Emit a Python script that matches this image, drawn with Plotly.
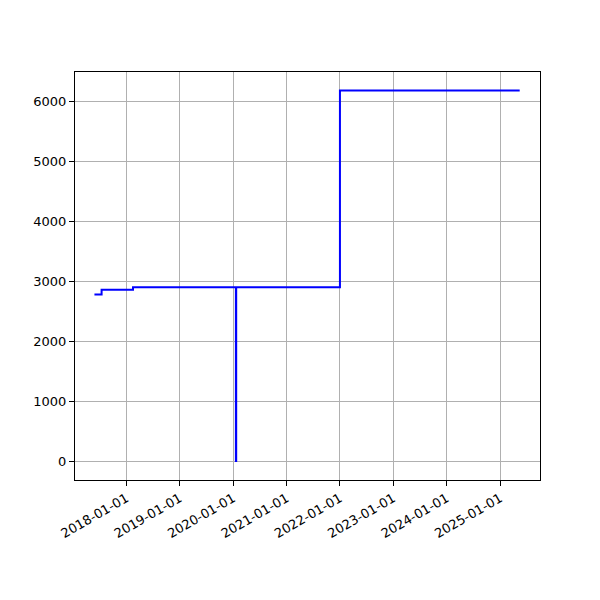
import plotly.graph_objects as go

dates = ["2017-05-27", "2017-07-15", "2018-02-15", "2020-01-20", "2020-01-22", "2022-01-01", "2025-05-15"]
values = [2780, 2860, 2900, 0, 2900, 6180, 6180]

tick_vals = ["2018-01-01", "2019-01-01", "2020-01-01", "2021-01-01", "2022-01-01", "2023-01-01", "2024-01-01", "2025-01-01"]
y_ticks = [0, 1000, 2000, 3000, 4000, 5000, 6000]

fig = go.Figure()
fig.add_trace(go.Scatter(x=dates, y=values, mode="lines", line=dict(color="blue", width=2, shape="hv")))

axis_common = dict(
    showline=True, linecolor="black", linewidth=1, mirror=True,
    ticks="outside", ticklen=5, tickcolor="black", tickwidth=1,
    showgrid=True, gridcolor="#b0b0b0", gridwidth=1, zeroline=False,
    tickfont=dict(family="DejaVu Sans", size=13, color="black"),
)

fig.update_layout(
    width=600, height=600,
    margin=dict(l=67, r=68, t=64, b=128),
    paper_bgcolor="white", plot_bgcolor="white",
    showlegend=False,
    xaxis=dict(range=["2017-01-14", "2025-10-01"], tickmode="array", tickvals=tick_vals,
               ticktext=tick_vals, tickangle=-30, **axis_common),
    yaxis=dict(range=[-315, 6490], tickmode="array", tickvals=y_ticks,
               ticktext=[str(v) for v in y_ticks], **axis_common),
)

fig.write_html("out.html")
